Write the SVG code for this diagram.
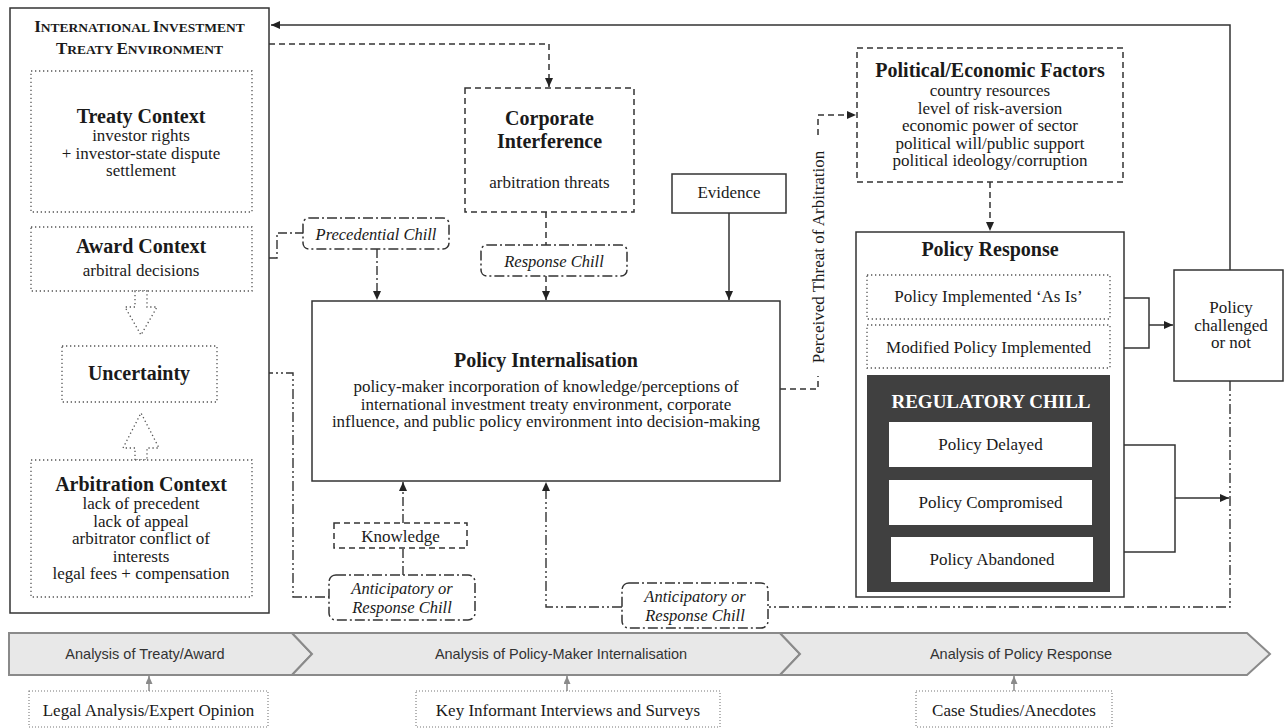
<svg xmlns="http://www.w3.org/2000/svg" width="1285" height="728" viewBox="0 0 1285 728">
<defs>
<marker id="ah" markerUnits="userSpaceOnUse" markerWidth="9" markerHeight="8" refX="9" refY="4" orient="auto"><path d="M0,0 L9,4 L0,8 z" fill="#222"/></marker>
<marker id="ahg" markerUnits="userSpaceOnUse" markerWidth="8" markerHeight="7" refX="8" refY="3.5" orient="auto"><path d="M0,0 L8,3.5 L0,7 z" fill="#8a8a8a"/></marker>
<style>
.box{fill:#fff;stroke:#333;stroke-width:1.5}
.dot{fill:#fff;stroke:#555;stroke-width:1.3;stroke-dasharray:1.3,2.7}
.dotl{fill:#fff;stroke:#777;stroke-width:1.1;stroke-dasharray:1,2}
.dsh{fill:#fff;stroke:#333;stroke-width:1.5;stroke-dasharray:6,4}
.chill{fill:#fff;stroke:#333;stroke-width:1.5;stroke-dasharray:10,3,2,3}
.ln{fill:none;stroke:#333;stroke-width:1.5}
.lnd{fill:none;stroke:#333;stroke-width:1.5;stroke-dasharray:6,4}
.lndd{fill:none;stroke:#333;stroke-width:1.4;stroke-dasharray:9,3,2,3}
.lnddd{fill:none;stroke:#333;stroke-width:1.4;stroke-dasharray:10,3,2,3,2,3}
.lng{fill:none;stroke:#8a8a8a;stroke-width:1.5}
.hol{fill:#fff;stroke:#555;stroke-width:1.3;stroke-dasharray:1.3,2.7}
.band{fill:#e8e8e8;stroke:#8a8a8a;stroke-width:2}
text{font-family:"Liberation Serif","Times New Roman",serif;fill:#1a1a1a;text-anchor:middle}
.t{font-size:17px}
.b{font-size:20px;font-weight:bold}
.i{font-size:16.5px;font-style:italic}
.sc{font-weight:bold}
.s{font-family:"Liberation Sans",Arial,sans-serif;font-size:14.5px;fill:#333}
</style>
</defs>

<g id="connectors">
<path class="ln" d="M1230,270 V25 H271" marker-end="url(#ah)"/>
<path class="lnd" d="M269,44 H549 V87" marker-end="url(#ah)"/>
<path class="lndd" d="M252,258 H277 V233 H303"/>
<path class="lndd" d="M377,249 V300" marker-end="url(#ah)"/>
<path class="lnd" d="M546,212 V245"/>
<path class="lnd" d="M546,276 V300" marker-end="url(#ah)"/>
<path class="ln" d="M729,213 V300" marker-end="url(#ah)"/>
<path class="lnd" d="M780,389 H818 V376"/>
<path class="lnd" d="M818,135 V115 H856" marker-end="url(#ah)"/>
<path class="lnd" d="M990,182 V231" marker-end="url(#ah)"/>
<path class="ln" d="M1124,298 H1149 V348 H1124"/>
<path class="ln" d="M1149,325 H1173" marker-end="url(#ah)"/>
<path class="ln" d="M1124,445 H1175 V552 H1124"/>
<path class="ln" d="M1175,498 H1229" marker-end="url(#ah)"/>
<path class="lnddd" d="M1230,381 V607 H768"/>
<path class="lnddd" d="M622,607 H546 V482" marker-end="url(#ah)"/>
<path class="lndd" d="M403,523 V482" marker-end="url(#ah)"/>
<path class="lndd" d="M403,575 V548"/>
<path class="lnddd" d="M217,373 H293 V597 H329"/>
<path class="lng" d="M149,691 V676" marker-end="url(#ahg)"/>
<path class="lng" d="M567,691 V676" marker-end="url(#ahg)"/>
<path class="lng" d="M1014,691 V676" marker-end="url(#ahg)"/>
<text class="t" transform="translate(824,257) rotate(-90)">Perceived Threat of Arbitration</text>
</g>

<g id="iite">
<rect class="box" x="10" y="8" width="259" height="605"/>
<text class="sc" x="139.5" y="32"><tspan font-size="17">I</tspan><tspan font-size="13.5">NTERNATIONAL </tspan><tspan font-size="17">I</tspan><tspan font-size="13.5">NVESTMENT</tspan></text>
<text class="sc" x="139.5" y="54"><tspan font-size="17">T</tspan><tspan font-size="13.5">REATY </tspan><tspan font-size="17">E</tspan><tspan font-size="13.5">NVIRONMENT</tspan></text>
</g>

<g id="treaty-context">
<rect class="dot" x="31" y="71" width="221" height="141"/>
<text class="b" x="141" y="123">Treaty Context</text>
<text class="t" x="141" y="141">investor rights</text>
<text class="t" x="141" y="158.5">+ investor-state dispute</text>
<text class="t" x="141" y="176">settlement</text>
</g>

<g id="award-context">
<rect class="dot" x="31" y="227" width="221" height="64"/>
<text class="b" x="141" y="253">Award Context</text>
<text class="t" x="141" y="276">arbitral decisions</text>
</g>

<g id="hollow-arrows">
<polygon class="hol" points="135,291 135,307 125,307 141,335 157,307 147,307 147,291"/>
<polygon class="hol" points="135,460 135,448 123,448 141,413 159,448 147,448 147,460"/>
</g>

<g id="uncertainty">
<rect class="dot" x="62" y="346" width="155" height="56"/>
<text class="b" x="139" y="380" font-size="21">Uncertainty</text>
</g>

<g id="arbitration-context">
<rect class="dot" x="31" y="460" width="221" height="137"/>
<text class="b" x="141" y="491">Arbitration Context</text>
<text class="t" x="141" y="509">lack of precedent</text>
<text class="t" x="141" y="526.5">lack of appeal</text>
<text class="t" x="141" y="544">arbitrator conflict of</text>
<text class="t" x="141" y="561.5">interests</text>
<text class="t" x="141" y="579">legal fees + compensation</text>
</g>

<g id="precedential-chill">
<rect class="chill" x="303" y="218" width="146" height="31" rx="6"/>
<text class="i" x="376" y="240">Precedential Chill</text>
</g>

<g id="corporate-interference">
<rect class="dsh" x="465" y="88" width="169" height="124"/>
<text class="b" x="549.5" y="125">Corporate</text>
<text class="b" x="549.5" y="148">Interference</text>
<text class="t" x="549.5" y="188">arbitration threats</text>
</g>

<g id="response-chill">
<rect class="chill" x="481" y="245" width="146" height="31" rx="6"/>
<text class="i" x="554" y="267">Response Chill</text>
</g>

<g id="evidence">
<rect class="box" x="672" y="174" width="114" height="39"/>
<text class="t" x="729" y="198">Evidence</text>
</g>

<g id="policy-internalisation">
<rect class="box" x="312" y="301" width="468" height="180"/>
<text class="b" x="546" y="367">Policy Internalisation</text>
<text class="t" x="546" y="392" font-size="17.5">policy-maker incorporation of knowledge/perceptions of</text>
<text class="t" x="546" y="409.5" font-size="17.5">international investment treaty environment, corporate</text>
<text class="t" x="546" y="427" font-size="17.5">influence, and public policy environment into decision-making</text>
</g>

<g id="political-economic">
<rect class="dsh" x="857" y="48" width="266" height="134"/>
<text class="b" x="990" y="77">Political/Economic Factors</text>
<text class="t" x="990" y="96">country resources</text>
<text class="t" x="990" y="113.5">level of risk-aversion</text>
<text class="t" x="990" y="131">economic power of sector</text>
<text class="t" x="990" y="148.5">political will/public support</text>
<text class="t" x="990" y="166">political ideology/corruption</text>
</g>

<g id="policy-response">
<rect class="box" x="856" y="232" width="268" height="365"/>
<text class="b" x="990" y="256">Policy Response</text>
<rect class="dot" x="867" y="275" width="243" height="44"/>
<text class="t" x="988.5" y="302">Policy Implemented ‘As Is’</text>
<rect class="dot" x="867" y="325" width="243" height="43"/>
<text class="t" x="988.5" y="353">Modified Policy Implemented</text>
</g>

<g id="regulatory-chill">
<rect x="867" y="375" width="243" height="217" fill="#404040"/>
<text x="991" y="408" font-size="19" font-weight="bold" style="fill:#fff">REGULATORY CHILL</text>
<rect x="889" y="422" width="203" height="45" fill="#fff"/>
<text class="t" x="990.5" y="450">Policy Delayed</text>
<rect x="889" y="480" width="203" height="45" fill="#fff"/>
<text class="t" x="990.5" y="508">Policy Compromised</text>
<rect x="891" y="537" width="202" height="45" fill="#fff"/>
<text class="t" x="992" y="565">Policy Abandoned</text>
</g>

<g id="policy-challenged">
<rect class="box" x="1174" y="270" width="109" height="111"/>
<text class="t" x="1231" y="313">Policy</text>
<text class="t" x="1231" y="330.5">challenged</text>
<text class="t" x="1231" y="348">or not</text>
</g>

<g id="knowledge">
<rect class="dsh" x="334" y="523" width="133" height="25"/>
<text class="t" x="400.5" y="542">Knowledge</text>
</g>

<g id="anticipatory-chill-1">
<rect class="chill" x="329" y="575" width="146" height="45" rx="7"/>
<text class="i" x="402" y="594">Anticipatory or</text>
<text class="i" x="402" y="613">Response Chill</text>
</g>

<g id="anticipatory-chill-2">
<rect class="chill" x="622" y="583" width="146" height="45" rx="7"/>
<text class="i" x="695" y="602">Anticipatory or</text>
<text class="i" x="695" y="621">Response Chill</text>
</g>

<g id="stage-treaty">
<polygon class="band" points="9,633 292,633 312,654 292,675 9,675"/>
<text class="s" x="145" y="659">Analysis of Treaty/Award</text>
</g>
<g id="stage-internalisation">
<polygon class="band" points="292,633 780,633 800,654 780,675 292,675 312,654"/>
<text class="s" x="561" y="659">Analysis of Policy-Maker Internalisation</text>
</g>
<g id="stage-response">
<polygon class="band" points="780,633 1247,633 1270,654 1247,675 780,675 800,654"/>
<text class="s" x="1021" y="659">Analysis of Policy Response</text>
</g>

<g id="legal-analysis">
<rect class="dotl" x="29" y="691" width="239" height="36"/>
<text class="t" x="148.5" y="716">Legal Analysis/Expert Opinion</text>
</g>
<g id="key-informant">
<rect class="dotl" x="416" y="691" width="304" height="36"/>
<text class="t" x="568" y="716">Key Informant Interviews and Surveys</text>
</g>
<g id="case-studies">
<rect class="dotl" x="916" y="691" width="196" height="36"/>
<text class="t" x="1014" y="716">Case Studies/Anecdotes</text>
</g>
</svg>
